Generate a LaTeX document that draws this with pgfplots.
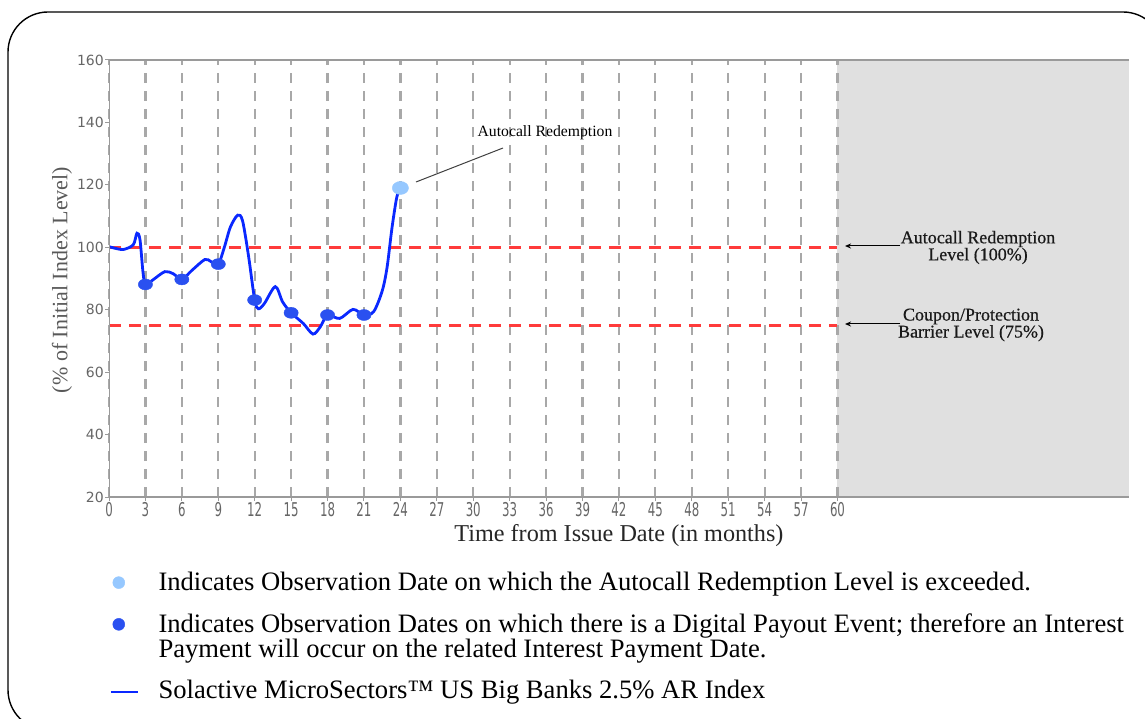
\documentclass[border=0pt]{standalone}
\usepackage{pgfplots}
\pgfplotsset{compat=1.18}
\usepackage{fontspec}
\setmainfont{Liberation Serif}
\newfontfamily\tickfont{DejaVu Sans}
\newfontfamily\annfont[FakeBold=0.5]{Liberation Serif}
\usetikzlibrary{arrows.meta}
\definecolor{lineblue}{HTML}{0A28FF}
\definecolor{markblue}{HTML}{2A50F0}
\definecolor{lightmark}{HTML}{96C8FF}
\definecolor{refred}{HTML}{FF3B3B}
\definecolor{gridgray}{HTML}{A8A8A8}
\definecolor{shade}{HTML}{E0E0E0}
\definecolor{axgray}{HTML}{9A9A9A}
\definecolor{ticktext}{HTML}{666666}

\pgfplotstableread{
x y
0 100.2
0.6 99.6
1.2 99.3
2.0 100.8
2.3 104.5
2.55 102.5
2.8 92
3.0 88.1
3.6 89.5
4.6 92.2
5.3 91.5
6.0 89.7
6.8 92.5
7.9 96.1
8.4 95.4
9.0 94.6
9.5 100
10.0 106.5
10.6 110.3
11.0 108.5
11.5 97
12.0 83.1
12.3 80.3
12.8 82
13.7 87.4
14.3 82.5
15.0 79
16.0 75.6
16.8 72.2
17.4 74.5
18.0 78.3
19.0 77.2
20.1 80.1
21.0 78.3
21.8 79.4
22.5 86
22.9 93.5
23.3 106
23.7 116
24.0 119
}\indexdata

\pgfplotstableread{
x y
3 88.1
6 89.7
9 94.6
12 83.1
15 79
18 78.3
21 78.3
}\payoutdata

\pgfplotstableread{
x y
24 119
}\autocalldata

\begin{document}
\begin{tikzpicture}[x=1pt,y=1pt]
\draw[line width=1.4pt, rounded corners=40pt] (8,-12) rectangle (1163,706);
\begin{axis}[
  set layers,
  at={(109pt,221pt)}, anchor=south west,
  width=1020pt, height=437pt, scale only axis,
  xmin=0, xmax=84, ymin=20, ymax=160,
  axis line style={draw=none},
  tick pos=left,
  xtick={0,3,...,60}, ytick={20,40,...,160},
  tick align=outside, major tick length=4pt,
  tick style={draw=axgray, line width=1pt},
  /pgf/number format/assume math mode=true,
  yticklabel style={font=\tickfont\fontsize{14}{16}\selectfont, text=ticktext, inner sep=1pt},
  xticklabel style={font=\tickfont\fontsize{19}{20}\selectfont, text=ticktext, xscale=0.62, inner sep=1pt},
  xmajorgrids,
  major grid style={draw=gridgray, line width=2.2pt, dash pattern=on 10pt off 8pt},
  xlabel={Time from Issue Date (in months)},
  xlabel style={at={(axis cs:42,20)}, anchor=center, yshift=-39pt, font=\fontsize{24.2}{26}\selectfont, text=black!85},
  ylabel={(\% of Initial Index Level)},
  ylabel style={at={(axis cs:-3.87,89.5)}, anchor=center, font=\fontsize{22}{24}\selectfont, text=black!65},
  legend style={
    at={(axis description cs:0.001,-0.172)}, anchor=north west,
    draw=none, fill=none, inner sep=0pt, outer sep=0pt,
    row sep=21.5pt, column sep=20pt,
    cells={anchor=base west},
    nodes={inner sep=0pt, align=left, font=\fontsize{26.6}{25}\selectfont, text=black},
  },
]
\addplot[on layer=axis background, fill=shade, draw=none, forget plot] coordinates {(60,160) (84,160)} \closedcycle;
\addplot[refred, line width=2.5pt, dash pattern=on 12pt off 8pt, forget plot] coordinates {(0,100) (60,100)};
\addplot[refred, line width=2.5pt, dash pattern=on 12pt off 8pt, forget plot] coordinates {(0,75) (60,75)};
\addplot[lineblue, line width=2.8pt, smooth, tension=0.5, forget plot] table[x=x,y=y] {\indexdata};
\addplot[only marks, mark=*, mark size=5.5pt, color=markblue, mark options={xscale=1.3}, forget plot] table[x=x,y=y] {\payoutdata};
\addplot[only marks, mark=*, mark size=6.5pt, color=lightmark, mark options={xscale=1.25}, forget plot] table[x=x,y=y] {\autocalldata};
\draw[axgray, line width=1.5pt] (rel axis cs:0,0) -- (rel axis cs:0,1) -- (rel axis cs:1,1);
\draw[axgray, line width=2.5pt] (rel axis cs:0,0) -- (rel axis cs:1,0);
\addlegendimage{only marks, mark=*, color=lightmark, legend image code/.code={\path (0pt,0pt) (27pt,0pt); \fill[lightmark] (8pt,8pt) circle (6pt);}}
\addlegendentry{Indicates Observation Date on which the Autocall Redemption Level is exceeded.}
\addlegendimage{only marks, mark=*, color=markblue, legend image code/.code={\path (0pt,0pt) (27pt,0pt); \fill[markblue] (8pt,33pt) circle (6pt);}}
\addlegendentry{Indicates Observation Dates on which there is a Digital Payout Event; therefore an Interest\\Payment will occur on the related Interest Payment Date.}
\addlegendimage{lineblue, line width=1.5pt, legend image code/.code={\draw[lineblue, line width=1.5pt] (0pt,7pt) -- (27pt,7pt);}}
\addlegendentry{Solactive MicroSectors™ US Big Banks 2.5\% AR Index}
\end{axis}
\draw[black!75, line width=1pt] (416,536) -- (503,570);
\node[font=\fontsize{15.7}{18}\selectfont] at (545,585) {Autocall Redemption};
\draw[black, line width=1pt, -{Stealth[length=6pt,width=5pt]}] (900,472) -- (845,472);
\draw[black, line width=1pt, -{Stealth[length=6pt,width=5pt]}] (900,394) -- (845,394);
\node[align=center, font=\annfont\fontsize{18}{17}\selectfont, text=black!90] at (978,470.5) {Autocall Redemption\\Level (100\%)};
\node[align=center, font=\annfont\fontsize{18}{17}\selectfont, text=black!90] at (971,393) {Coupon/Protection\\Barrier Level (75\%)};
\pgfresetboundingbox
\useasboundingbox (0,0) rectangle (1145,718);
\end{tikzpicture}
\end{document}
